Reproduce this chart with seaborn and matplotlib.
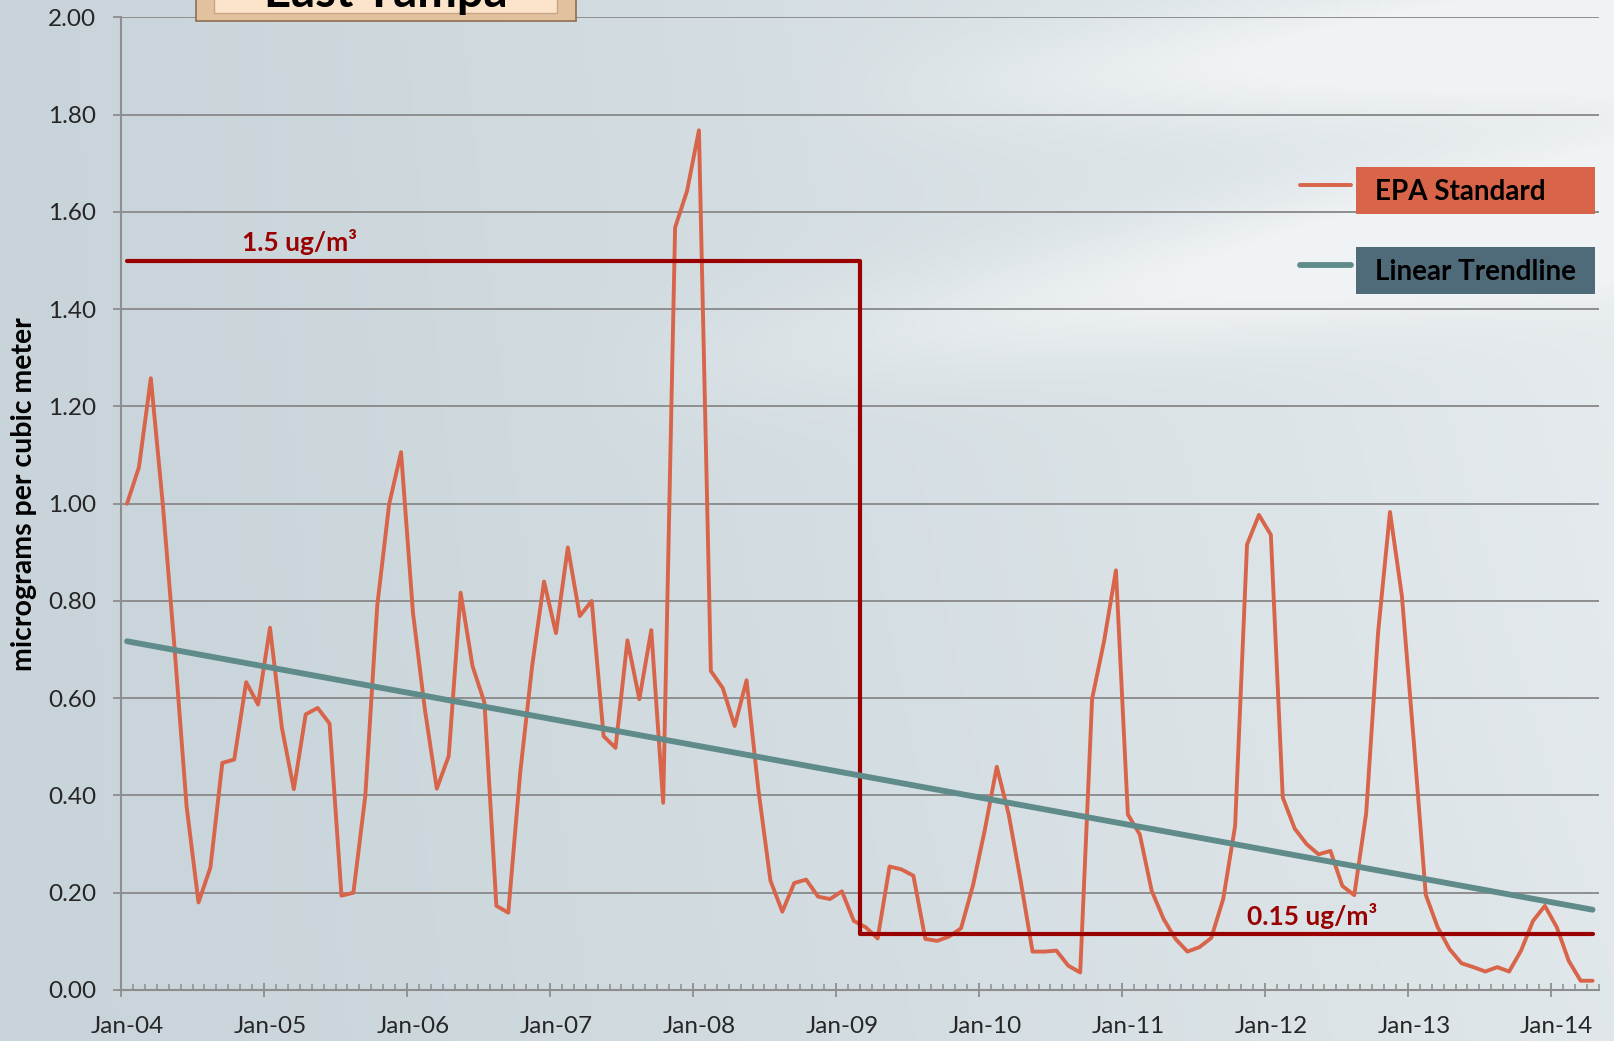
import numpy as np
import pandas as pd
import matplotlib
matplotlib.use("Agg")
import matplotlib.pyplot as plt
from matplotlib.patches import Rectangle
from matplotlib.lines import Line2D
from matplotlib.ticker import FixedLocator, MultipleLocator, NullFormatter
import seaborn as sns

# ======= Data (monthly lead, ug/m3, East Tampa) ========
lead_2004 = [1.00, 1.075, 1.258, 1.00, 0.70, 0.378, 0.18, 0.252, 0.467, 0.474, 0.633, 0.587]
lead_2005 = [0.745, 0.539, 0.413, 0.567, 0.58, 0.548, 0.194, 0.20, 0.399, 0.79, 0.999, 1.106]
lead_2006 = [0.776, 0.577, 0.414, 0.481, 0.817, 0.666, 0.591, 0.173, 0.159, 0.447, 0.666, 0.84]
lead_2007 = [0.734, 0.91, 0.769, 0.80, 0.522, 0.498, 0.719, 0.598, 0.74, 0.385, 1.568, 1.643]
lead_2008 = [1.768, 0.656, 0.621, 0.543, 0.637, 0.41, 0.225, 0.161, 0.22, 0.227, 0.192, 0.187]
lead_2009 = [0.203, 0.142, 0.129, 0.106, 0.254, 0.248, 0.235, 0.105, 0.101, 0.11, 0.127, 0.215]
lead_2010 = [0.33, 0.459, 0.361, 0.225, 0.079, 0.079, 0.081, 0.05, 0.036, 0.599, 0.717, 0.863]
lead_2011 = [0.361, 0.32, 0.204, 0.146, 0.105, 0.079, 0.088, 0.107, 0.187, 0.337, 0.916, 0.977]
lead_2012 = [0.936, 0.396, 0.332, 0.30, 0.279, 0.286, 0.214, 0.195, 0.363, 0.735, 0.983, 0.81]
lead_2013 = [0.51, 0.196, 0.129, 0.084, 0.055, 0.047, 0.038, 0.047, 0.038, 0.081, 0.142, 0.173]
lead_2014 = [0.129, 0.06, 0.019, 0.019]

# EPA standard step (old 1.5, new standard drawn at ~0.115 on the original)
std_month = [0, 61.5, 123]          # month index where segments start / end
std_level = [1.5, 0.115, 0.115]
std_labels = ["1.5 ug/m³", "0.15 ug/m³"]

series_names = ["EPA Standard", "Linear Trendline"]
y_ticks = [0.0, 0.2, 0.4, 0.6, 0.8, 1.0, 1.2, 1.4, 1.6, 1.8, 2.0]

lead = (lead_2004 + lead_2005 + lead_2006 + lead_2007 + lead_2008 + lead_2009
        + lead_2010 + lead_2011 + lead_2012 + lead_2013 + lead_2014)
months = pd.date_range("2004-01-01", periods=len(lead), freq="MS")
df = pd.DataFrame({"month": months, "lead": lead})
df["pos"] = np.arange(len(df)) + 0.5     # data sits in the middle of each month

# linear trendline (least squares, like excel)
slope, icept = np.polyfit(df["pos"], df["lead"], 1)
df["trend"] = icept + slope * df["pos"]

# ======= Colors ========
ORANGE = "#D8644A"
TEAL = "#5F8B8A"
DARKRED = "#990000"
GRID = "#8E8E8E"
SLATE = "#4F6A79"

sns.set_theme(style="white")
plt.rcParams["font.family"] = ["Lato", "DejaVu Sans"]

fig = plt.figure(figsize=(16.14, 10.41), dpi=100)

# background: blue-grey gradient with soft light swooshes
bg = fig.add_axes([0, 0, 1, 1], zorder=-10)
gx, gy = np.meshgrid(np.linspace(0, 1, 400), np.linspace(0, 1, 260))
base = 0.10 + 0.55 * gx ** 1.3 + 0.15 * (1 - gy) * gx
sw1 = np.exp(-((gy - (0.33 - 0.25 * (gx - 0.5))) / 0.06) ** 2) * np.clip(gx - 0.35, 0, 1) * 1.2
sw2 = np.exp(-((gy - (0.08 - 0.12 * (gx - 0.6))) / 0.05) ** 2) * np.clip(gx - 0.5, 0, 1) * 1.5
shade = np.clip(base + sw1 + sw2, 0, 1)
c0 = np.array([196, 209, 215]) / 255
c1 = np.array([240, 243, 245]) / 255
img = c0 + (c1 - c0) * shade[..., None]
bg.imshow(img, aspect="auto", extent=[0, 1, 0, 1], origin="upper")
bg.set_axis_off()

ax = fig.add_axes([0.075, 0.049, 0.9154, 0.9342])
ax.patch.set_alpha(0)

# ======= Plot ========
ax.grid(axis="y", color=GRID, lw=1.4, zorder=0)
ax.set_axisbelow(True)

sns.lineplot(data=df, x="pos", y="lead", ax=ax, color=ORANGE, lw=2.8, zorder=3)
ax.plot(np.array(std_month) + 0.5, std_level, drawstyle="steps-post",
        color=DARKRED, lw=3.0, zorder=4)
sns.lineplot(data=df, x="pos", y="trend", ax=ax, color=TEAL, lw=4.2, zorder=5)

ax.annotate(std_labels[0], xy=(15, std_level[0]), xytext=(0, 4), textcoords="offset points",
            ha="center", va="bottom", color=DARKRED, fontsize=19, fontweight="bold")
ax.annotate(std_labels[1], xy=(100, std_level[1]), xytext=(0, 4), textcoords="offset points",
            ha="center", va="bottom", color=DARKRED, fontsize=19, fontweight="bold")

# ======= Axes styling ========
ax.set_xlim(0, 124)
ax.set_ylim(0, 2.0)
ax.set_yticks(y_ticks)
ax.set_yticklabels([f"{v:.2f}" for v in y_ticks])

# year ticks on the month boundary, labels in the middle of January
jan_idx = [i for i, m in enumerate(months) if m.month == 1]
ax.xaxis.set_major_locator(FixedLocator(jan_idx))
ax.xaxis.set_major_formatter(NullFormatter())
ax.xaxis.set_minor_locator(MultipleLocator(1))

sec = ax.secondary_xaxis("bottom")
sec.set_xticks([i + 0.5 for i in jan_idx], [months[i].strftime("%b-%y") for i in jan_idx])
sec.tick_params(length=0, labelsize=17.5, pad=19)
sec.spines["bottom"].set_visible(False)

ax.tick_params(axis="y", which="major", direction="out", length=6, width=1.3,
               color=GRID, labelsize=17.5, pad=12, left=True)
ax.tick_params(axis="x", which="major", direction="inout", length=10, width=1.3,
               color=GRID, bottom=True)
ax.tick_params(axis="x", which="minor", direction="in", length=4.5, width=1.1,
               color=GRID, bottom=True)

for side in ["top", "right"]:
    ax.spines[side].set_visible(False)
for side in ["left", "bottom"]:
    ax.spines[side].set_color(GRID)
    ax.spines[side].set_linewidth(1.5)

ax.set_xlabel("")
ax.set_ylabel("micrograms per cubic meter", fontsize=20.5, fontweight="bold", color="black")
ax.yaxis.set_label_coords(-0.057, 0.51)

# ======= Legend (line sample + coloured label box) ========
legend_rows = [(0.822, 0.7944, ORANGE, ORANGE, 2.8),
               (0.745, 0.7176, TEAL, SLATE, 4.2)]
for name, (ly, by, lc, bc, lw) in zip(series_names, legend_rows):
    fig.add_artist(Line2D([0.8055, 0.837], [ly, ly], color=lc, lw=lw,
                          solid_capstyle="round", transform=fig.transFigure))
    fig.add_artist(Rectangle((0.840, by), 0.148, 0.0452, facecolor=bc, edgecolor="none",
                             transform=fig.transFigure))
    fig.text(0.852, by + 0.0215, name, ha="left", va="center", fontsize=20,
             fontweight="bold", color="black")

# ======= Title plate (cut off at the top) ========
fig.add_artist(Rectangle((196 / 1614, 1 - 21 / 1041), 380 / 1614, 0.05,
                         facecolor="#E2C19E", edgecolor="#8F6E52", lw=1.2,
                         transform=fig.transFigure))
fig.add_artist(Rectangle((214 / 1614, 1 - 13 / 1041), 343 / 1614, 0.05,
                         facecolor="#FBE4CA", edgecolor="#C7A586", lw=1.0,
                         transform=fig.transFigure))
fig.text(386 / 1614, 1 - 7 / 1041, "East Tampa", ha="center", va="baseline",
         fontsize=34, fontweight="bold", color="black")

fig.savefig("out.png", dpi=100)
